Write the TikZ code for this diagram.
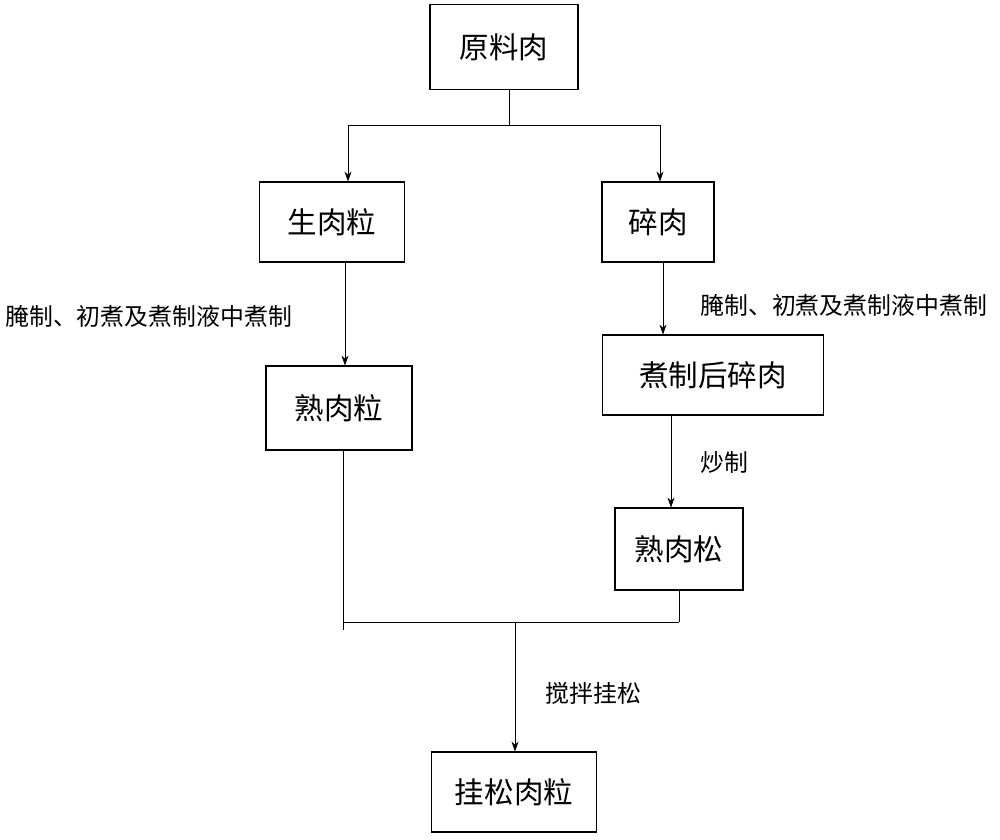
\documentclass[tikz,border=0pt]{standalone}
\usepackage{fontspec}
\usepackage{tikz}
\usetikzlibrary{arrows.meta,positioning}
\newfontfamily\cjk{Noto Sans CJK SC}
\tikzset{
    flow-box/.style = {draw=black, thick, rectangle, inner sep=0pt, font=\cjk\fontsize{21}{24}\selectfont},
    flow-label/.style = {font=\cjk\fontsize{17}{20}\selectfont, anchor=west, inner sep=0pt},
    flow-arrow/.style = {draw=black, -{Stealth[length=7pt,width=5pt]}},
}
\begin{document}
\begin{tikzpicture}[x=0.025cm,y=-0.025cm]
\useasboundingbox (0,0) rectangle (1000,840);
\node [flow-box, minimum width=148*0.025cm, minimum height=85*0.025cm] (raw) at (504,47) {原料肉};
\node [flow-box, minimum width=145*0.025cm, minimum height=80*0.025cm] (rawgrain) at (332,222) {生肉粒};
\node [flow-box, minimum width=112*0.025cm, minimum height=80*0.025cm] (minced) at (658,222) {碎肉};
\node [flow-box, minimum width=146*0.025cm, minimum height=84*0.025cm] (cookedgrain) at (339,408) {熟肉粒};
\node [flow-box, minimum width=221*0.025cm, minimum height=80*0.025cm] (boiledminced) at (713,375) {煮制后碎肉};
\node [flow-box, minimum width=128*0.025cm, minimum height=82*0.025cm] (floss) at (679,549) {熟肉松};
\node [flow-box, minimum width=165*0.025cm, minimum height=80*0.025cm] (product) at (514,792) {挂松肉粒};

\coordinate (split) at (509,125);
\coordinate (merge) at (515,622);
\draw (raw.south -| split) -- (split);
\draw (348,125) -- (660,125);
\draw [flow-arrow] (348,125) -- (rawgrain.north -| 348,0);
\draw [flow-arrow] (660,125) -- (minced.north -| 660,0);
\draw [flow-arrow] (rawgrain.south -| 345,0) -- (cookedgrain.north -| 345,0);
\draw [flow-arrow] (minced.south -| 663,0) -- (boiledminced.north -| 663,0);
\draw [flow-arrow] (boiledminced.south -| 671,0) -- (floss.north -| 671,0);
\draw (cookedgrain.south -| 343,0) -- (343,630);
\draw (floss.south -| 679,0) -- (679,622);
\draw (343,622) -- (679,622);
\draw [flow-arrow] (merge) -- (product.north -| merge);

\node [flow-label] at (5,316) {腌制、初煮及煮制液中煮制};
\node [flow-label] at (700,305) {腌制、初煮及煮制液中煮制};
\node [flow-label] at (700,462) {炒制};
\node [flow-label] at (545,693) {搅拌挂松};
\end{tikzpicture}
\end{document}
